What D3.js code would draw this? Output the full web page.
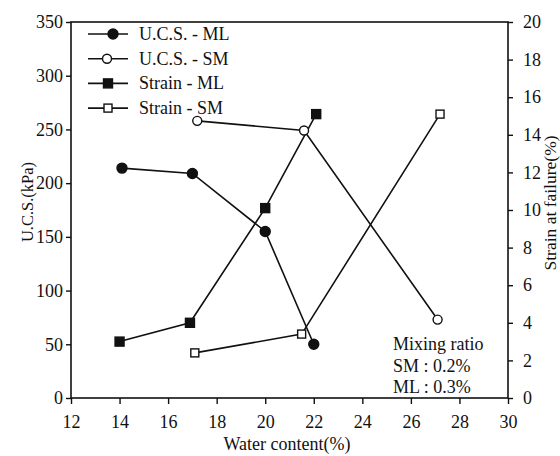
<!DOCTYPE html>
<html>
<head>
<meta charset="utf-8">
<script src="https://cdn.jsdelivr.net/npm/d3@7"></script>
<style>
  body { margin: 0; background: #fff; }
  svg { display: block; }
  text { font-family: "Liberation Serif", "DejaVu Serif", serif; fill: #111; }
</style>
</head>
<body>
<svg width="560" height="456"></svg>
<script>
// water content (%) for each series
const ucsMlX = [14.1, 17.0, 20.0, 22.0];
const ucsMl = [214, 209, 155, 50];
const ucsSmX = [17.2, 21.6, 27.1];
const ucsSm = [258, 249, 73];
const strainMlX = [14.0, 16.9, 20.0, 22.1];
const strainMl = [3.0, 4.0, 10.1, 15.1];
const strainSmX = [17.1, 21.5, 27.2];
const strainSm = [2.4, 3.4, 15.1];

const xTicks = [12, 14, 16, 18, 20, 22, 24, 26, 28, 30];
const leftTicks = [0, 50, 100, 150, 200, 250, 300, 350];
const rightTicks = [0, 2, 4, 6, 8, 10, 12, 14, 16, 18, 20];
const legendNames = ['U.C.S. - ML', 'U.C.S. - SM', 'Strain - ML', 'Strain - SM'];
const noteLines = ['Mixing ratio', 'SM : 0.2%', 'ML : 0.3%'];

const svg = d3.select('svg');
const pL = 71, pR = 508, pT = 22, pB = 398;

const x = d3.scaleLinear().domain([12, 30]).range([pL, pR]);
const yL = d3.scaleLinear().domain([0, 350]).range([pB, pT]);
const yR = d3.scaleLinear().domain([0, 20]).range([pB, pT]);

// frame
svg.append('rect')
    .attr('x', pL).attr('y', pT)
    .attr('width', pR - pL).attr('height', pB - pT)
    .attr('fill', 'none').attr('stroke', '#111').attr('stroke-width', 1.6);

const gx = svg.append('g')
    .attr('transform', `translate(0,${pB})`)
    .call(d3.axisBottom(x).tickValues(xTicks).tickSize(6).tickPadding(11));
const gl = svg.append('g')
    .attr('transform', `translate(${pL},0)`)
    .call(d3.axisLeft(yL).tickValues(leftTicks).tickSize(5).tickPadding(3));
const gr = svg.append('g')
    .attr('transform', `translate(${pR},0)`)
    .call(d3.axisRight(yR).tickValues(rightTicks).tickSize(5).tickPadding(10));

[gx, gl, gr].forEach(g => {
    g.select('.domain').remove();
    g.selectAll('line').attr('stroke', '#111').attr('stroke-width', 1.4);
    g.selectAll('text')
        .attr('font-family', '"Liberation Serif", serif')
        .attr('font-size', 18)
        .attr('fill', '#111');
});

// axis titles
svg.append('text')
    .attr('transform', `translate(33,202) rotate(-90)`)
    .attr('text-anchor', 'middle')
    .attr('font-size', 16.5)
    .text('U.C.S.(kPa)');
svg.append('text')
    .attr('transform', `translate(556,203) rotate(-90)`)
    .attr('text-anchor', 'middle')
    .attr('font-size', 17.5)
    .text('Strain at failure(%)');
svg.append('text')
    .attr('x', 287).attr('y', 450)
    .attr('text-anchor', 'middle')
    .attr('font-size', 18)
    .text('Water content(%)');

function series(xs, ys, yScale, kind, filled) {
    const pts = xs.map((d, i) => [x(d), yScale(ys[i])]);
    svg.append('path')
        .attr('d', d3.line()(pts))
        .attr('fill', 'none')
        .attr('stroke', '#111')
        .attr('stroke-width', 1.6);
    drawMarks(svg, pts, kind, filled);
}

function drawMarks(g, pts, kind, filled) {
    if (kind === 'circle') {
        g.selectAll(null).data(pts).enter().append('circle')
            .attr('cx', d => d[0]).attr('cy', d => d[1])
            .attr('r', filled ? 5 : 4.5)
            .attr('fill', filled ? '#111' : '#fff')
            .attr('stroke', '#111').attr('stroke-width', 1.4);
    } else {
        const s = filled ? 9 : 8;
        g.selectAll(null).data(pts).enter().append('rect')
            .attr('x', d => d[0] - s / 2).attr('y', d => d[1] - s / 2)
            .attr('width', s).attr('height', s)
            .attr('fill', filled ? '#111' : '#fff')
            .attr('stroke', '#111').attr('stroke-width', 1.4);
    }
}

series(strainMlX, strainMl, yR, 'square', true);
series(strainSmX, strainSm, yR, 'square', false);
series(ucsSmX, ucsSm, yL, 'circle', false);
series(ucsMlX, ucsMl, yL, 'circle', true);

// legend
const kinds = [['circle', true], ['circle', false], ['square', true], ['square', false]];
const markX = [113, 107, 108, 108];
const leg = svg.append('g');
legendNames.forEach((name, i) => {
    const ly = 34 + i * 24.7;
    leg.append('line')
        .attr('x1', 88).attr('x2', 128)
        .attr('y1', ly).attr('y2', ly)
        .attr('stroke', '#111').attr('stroke-width', 1.6);
    drawMarks(leg.append('g'), [[markX[i], ly]], kinds[i][0], kinds[i][1]);
    leg.append('text')
        .attr('x', 139).attr('y', ly + 6)
        .attr('font-size', 18)
        .text(name);
});

// note
noteLines.forEach((t, i) => {
    svg.append('text')
        .attr('x', 393).attr('y', 350 + i * 21.5)
        .attr('font-size', 18)
        .text(t);
});
</script>
</body>
</html>
